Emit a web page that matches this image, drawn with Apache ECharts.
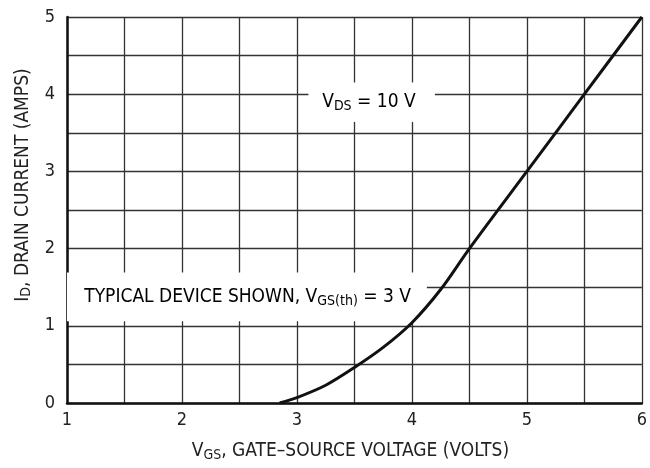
<!DOCTYPE html>
<html>
<head>
<meta charset="utf-8">
<script src="https://cdn.jsdelivr.net/npm/echarts@6/dist/echarts.min.js"></script>
<style>
  html, body { margin: 0; padding: 0; background: #fff; }
  #chart { width: 650px; height: 468px; }
</style>
</head>
<body>
<div id="chart"></div>
<script>
// transfer curve
const vgs = [2.85, 3.0, 3.25, 3.5, 3.75, 4.0, 4.25, 4.5, 5.0, 5.5, 6.0];
const idAmps = [0, 0.07, 0.23, 0.46, 0.72, 1.04, 1.47, 2.0, 3.0, 4.0, 5.0];
const xTicks = [1, 2, 3, 4, 5, 6];
const yTicks = [0, 1, 2, 3, 4, 5];

const FONT = '"Liberation Sans Narrow", "DejaVu Sans Condensed", "Liberation Sans", sans-serif';
const INK = '#222';

// text styles for subscripts
const rich = {
  n: { fontSize: 19, lineHeight: 22, fontFamily: FONT, color: INK },
  s: { fontSize: 14, lineHeight: 8, fontFamily: FONT, color: INK, verticalAlign: 'bottom' }
};

const chart = echarts.init(document.getElementById('chart'), null, { renderer: 'canvas' });

const option = {
  backgroundColor: '#fff',
  animation: false,
  grid: { left: 67, right: 7, top: 17, bottom: 65 },
  xAxis: {
    type: 'value', min: 1, max: 6, interval: 0.5,
    axisLine: { show: true, lineStyle: { color: '#111', width: 2.5 } },
    axisTick: { show: false },
    axisLabel: {
      margin: 8, color: INK, fontSize: 18, fontFamily: FONT,
      formatter: v => xTicks.indexOf(v) >= 0 ? String(v) : ''
    },
    splitLine: { show: true, lineStyle: { color: '#333', width: 1.3 } },
    name: '{n|V}{s|GS}{n|, GATE–SOURCE VOLTAGE (VOLTS)}',
    nameLocation: 'middle', nameGap: 37,
    nameTextStyle: { rich: rich, padding: [0, 8, 0, 0] }
  },
  yAxis: {
    type: 'value', min: 0, max: 5, interval: 0.5,
    axisLine: { show: true, lineStyle: { color: '#111', width: 2.5 } },
    axisTick: { show: false },
    axisLabel: {
      margin: 12, color: INK, fontSize: 18, fontFamily: FONT,
      formatter: v => yTicks.indexOf(v) >= 0 ? String(v) : ''
    },
    splitLine: { show: true, lineStyle: { color: '#333', width: 1.3 } },
    name: '{n|I}{s|D}{n|, DRAIN CURRENT (AMPS)}',
    nameLocation: 'middle', nameGap: 33, nameRotate: 90,
    nameTextStyle: { rich: rich, padding: [0, 0, 0, 50] }
  },
  series: [{
    type: 'line',
    data: vgs.map((v, i) => [v, idAmps[i]]),
    smooth: 0.3,
    showSymbol: false,
    lineStyle: { color: '#111', width: 3 },
    z: 3,
    // white boxes behind the two notes
    markArea: {
      silent: true,
      itemStyle: { color: '#fff', borderWidth: 0 },
      data: [
        [{ coord: [3.1, 3.64] }, { coord: [4.2, 4.15] }],
        [{ coord: [1.0, 1.06] }, { coord: [4.13, 1.69] }]
      ]
    }
  }]
};
chart.setOption(option);

// the two notes, placed by data coordinates
const notes = [
  { at: [3.22, 3.9], text: '{n|V}{s|DS}{n| = 10 V}' },
  { at: [1.15, 1.37], text: '{n|TYPICAL DEVICE SHOWN, V}{s|GS(th)}{n| = 3 V}' }
];
chart.setOption({
  graphic: notes.map(n => {
    const p = chart.convertToPixel({ gridIndex: 0 }, n.at);
    return {
      type: 'text', z: 10, silent: true,
      x: p[0], y: p[1],
      style: { text: n.text, rich: rich, align: 'left', verticalAlign: 'middle' }
    };
  })
});
</script>
</body>
</html>
